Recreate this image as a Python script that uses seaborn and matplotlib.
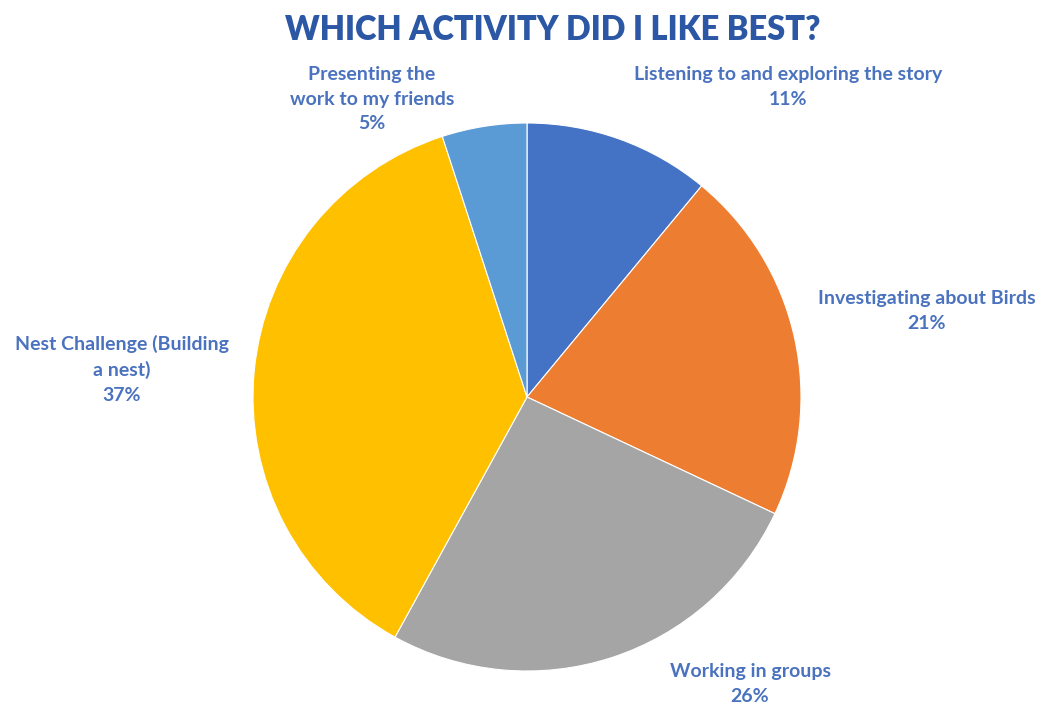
import matplotlib
matplotlib.use("Agg")
import matplotlib.pyplot as plt
import seaborn as sns
import numpy as np

categories = ["Listening to and exploring the story", "Investigating about Birds",
              "Working in groups", "Nest Challenge (Building\na nest)",
              "Presenting the\nwork to my friends"]
values = [11, 21, 26, 37, 5]
colors = ["#4472C4", "#ED7D31", "#A5A5A5", "#FFC000", "#5B9BD5"]
# label anchor positions in pixel coordinates of the reference (center x, top y)
label_px = [(788, 66), (927, 290), (750, 663), (122, 335), (372, 66)]

sns.set_theme(style="white")
plt.rcParams['font.family'] = ['Lato', 'DejaVu Sans']

W, H = 1043, 709
fig = plt.figure(figsize=(W / 100, H / 100), dpi=100)
cx, cy, r = 527, 397, 274
ax = fig.add_axes([(cx - r) / W, (H - cy - r) / H, 2 * r / W, 2 * r / H])
ax.pie(values, colors=colors, startangle=90, counterclock=False, radius=1,
       wedgeprops=dict(edgecolor="white", linewidth=0.8))
ax.set_xlim(-1, 1)
ax.set_ylim(-1, 1)
ax.set_aspect("equal")
ax.axis("off")

label_color = "#4A72BE"
for cat, v, (px, py) in zip(categories, values, label_px):
    fig.text(px / W, 1 - py / H, f"{cat}\n{v}%", ha="center", va="top",
             fontsize=14, fontweight="bold", color=label_color,
             linespacing=1.55)

fig.text(553 / W, 1 - 30 / H, "WHICH ACTIVITY DID I LIKE BEST?", ha="center",
         va="center", fontsize=23.5, fontweight="heavy", color="#2B57A5")

fig.savefig("out.png", dpi=100, facecolor="white")
